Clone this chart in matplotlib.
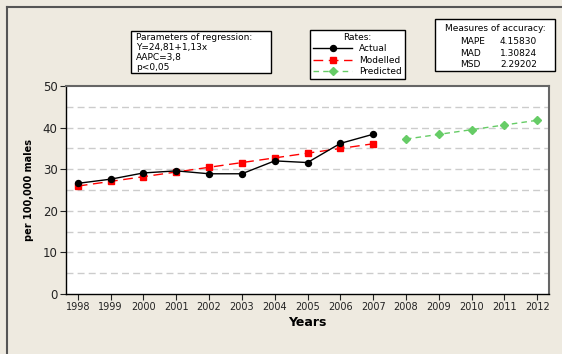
import numpy as np
import matplotlib.pyplot as plt
from matplotlib.lines import Line2D

years = [1998, 1999, 2000, 2001, 2002, 2003, 2004, 2005, 2006, 2007]
actual = [26.6, 27.6, 29.1, 29.6, 28.9, 28.9, 32.0, 31.6, 36.2, 38.4]
modelled = [25.94, 27.07, 28.20, 29.33, 30.46, 31.59, 32.72, 33.85, 34.98, 36.11]
pred_years = [2008, 2009, 2010, 2011, 2012]
predicted = [37.24, 38.37, 39.50, 40.63, 41.76]

regression_text = "Parameters of regression:\nY=24,81+1,13x\nAAPC=3,8\np<0,05"
accuracy_names = ["MAPE", "MAD", "MSD"]
accuracy_values = ["4.15830", "1.30824", "2.29202"]

W, H = 562, 354
bg = '#EEEAE0'

fig = plt.figure(figsize=(W/100, H/100), dpi=100, facecolor=bg)
ax = fig.add_axes([66/W, 1 - 294/H, (549-66)/W, (294-86)/H])
ax.set_facecolor('white')

# frame edges of the window
fig.add_artist(Line2D([7/W, 7/W], [0, 1 - 7/H], color='#555555', lw=1.5))
fig.add_artist(Line2D([7/W, 1], [1 - 7/H, 1 - 7/H], color='#555555', lw=1.5))

for yv in range(5, 50, 5):
    ax.axhline(yv, color='#CCCCCC', lw=1, ls=(0, (5, 3)), zorder=0)

ax.plot(years, actual, color='black', lw=1, marker='o', ms=4.3, label='Actual', zorder=3)
ax.plot(years, modelled, color='red', lw=1, ls=(0, (7, 4)), marker='s', ms=4, label='Modelled', zorder=2)
ax.plot(pred_years, predicted, color='#66CC66', lw=1, ls=(0, (4, 3)), marker='D', ms=3.8, label='Predicted', zorder=2)

ax.set_xlim(1997.64, 2012.36)
ax.set_ylim(0, 50)
ax.set_xticks(years + pred_years)
ax.set_yticks(range(0, 51, 10))
ax.tick_params(axis='x', labelsize=7, length=4, pad=2, colors='#222222')
ax.tick_params(axis='y', labelsize=8.5, length=4, pad=2, colors='#222222')

for s in ['top', 'right']:
    ax.spines[s].set_color('#666666')
    ax.spines[s].set_linewidth(1.5)
for s in ['left', 'bottom']:
    ax.spines[s].set_color('black')
    ax.spines[s].set_linewidth(1)

ax.set_xlabel('Years', fontsize=9, fontweight='bold', labelpad=3)
ax.set_ylabel('per 100,000 males', fontsize=7, fontweight='bold', labelpad=6)

# boxes above the plot
fig.text(136/W, 1 - 33/H, regression_text, fontsize=6.5, va='top', ha='left',
         linespacing=1.15)
fig.patches.append(plt.Rectangle((131/W, 1 - 73/H), (271-131)/W, (73-31)/H,
                                 transform=fig.transFigure, fc='white', ec='black', lw=1, zorder=0))

leg = fig.legend(title='Rates:', loc='upper left', bbox_to_anchor=(310/W, 1 - 30/H),
                 fontsize=6.5, title_fontsize=6.5, frameon=True, fancybox=False,
                 edgecolor='black', framealpha=1, borderpad=0.35, labelspacing=0.25,
                 handlelength=4.3, handletextpad=0.8, borderaxespad=0)
leg.get_frame().set_linewidth(1)

fig.patches.append(plt.Rectangle((435/W, 1 - 71/H), (555-435)/W, (71-19)/H,
                                 transform=fig.transFigure, fc='white', ec='black', lw=1, zorder=0))
fig.text(495/W, 1 - 24/H, "Measures of accuracy:", fontsize=6.5, ha='center', va='top')
for i, (n, v) in enumerate(zip(accuracy_names, accuracy_values)):
    yy = 1 - (37 + i * 11.5) / H
    fig.text(460/W, yy, n, fontsize=6.5, ha='left', va='top')
    fig.text(500/W, yy, v, fontsize=6.5, ha='left', va='top')

fig.savefig('out.png', dpi=100, facecolor=bg)
